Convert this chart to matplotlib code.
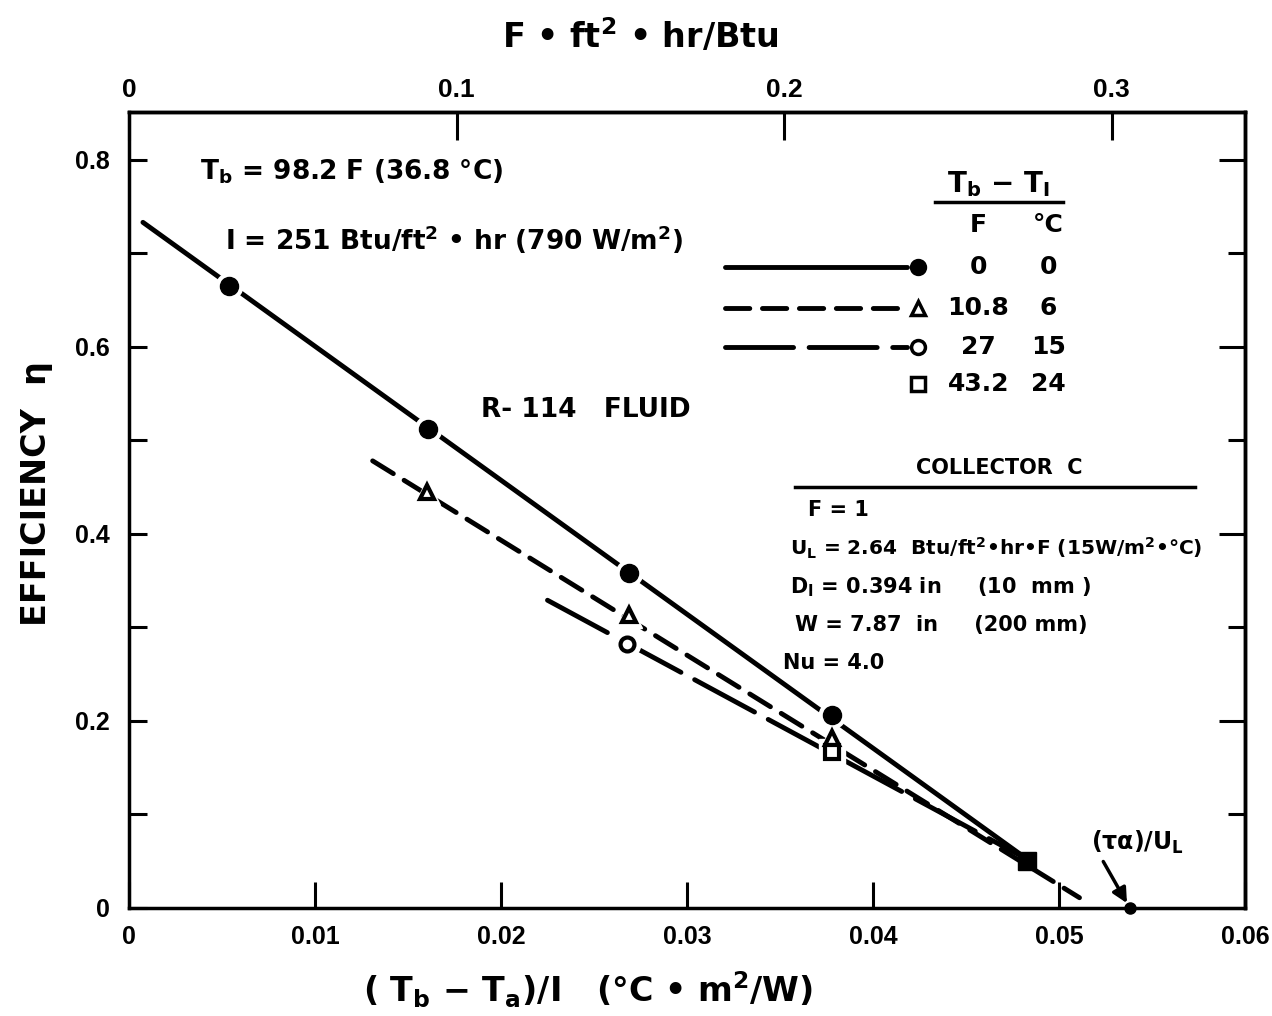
import numpy as np
import matplotlib.pyplot as plt

plt.rcParams['font.family'] = ['Liberation Sans', 'DejaVu Sans']
plt.rcParams['font.weight'] = 'bold'
plt.rcParams['axes.labelweight'] = 'bold'
plt.rcParams['mathtext.fontset'] = 'custom'
plt.rcParams['mathtext.rm'] = 'DejaVu Sans:bold'
plt.rcParams['mathtext.it'] = 'DejaVu Sans:bold'
plt.rcParams['mathtext.bf'] = 'DejaVu Sans:bold'
plt.rcParams['mathtext.default'] = 'rm'

TXT = ['DejaVu Sans']

# (Tb - Ta)/I in C m2/W, efficiency
# Tb - Ti = 0 F (solid, filled circles)
x0_line = [0.00075, 0.0483]
eta0_line = [0.733, 0.052]
x0_pts = [0.0054, 0.0161, 0.0269, 0.0378]
eta0_pts = [0.665, 0.512, 0.358, 0.206]

# Tb - Ti = 10.8 F (dashed, triangles)
x6_line = [0.0131, 0.0511]
eta6_line = [0.478, 0.011]
x6_pts = [0.0160, 0.0269, 0.0378]
eta6_pts = [0.445, 0.313, 0.182]

# Tb - Ti = 27 F (long dash, open circles)
x15_line = [0.0225, 0.0483]
eta15_line = [0.329, 0.052]
x15_pts = [0.0268]
eta15_pts = [0.282]

# Tb - Ti = 43.2 F (open squares)
x24_pts = [0.0378]
eta24_pts = [0.167]

# overlapping points at the low end
x_overlap = [0.0483]
eta_overlap = [0.050]

# (tau alpha)/UL intercept
x_tau = [0.0538]
eta_tau = [0.0]

legend_F = ['0', '10.8', '27', '43.2']
legend_C = ['0', '6', '15', '24']

x_ticks = [0, 0.01, 0.02, 0.03, 0.04, 0.05, 0.06]
x_labels = ['0', '0.01', '0.02', '0.03', '0.04', '0.05', '0.06']
y_ticks = [0, 0.2, 0.4, 0.6, 0.8]
y_labels = ['0', '0.2', '0.4', '0.6', '0.8']
y_minor = [0.1, 0.3, 0.5, 0.7]
top_ticks = [0, 0.1, 0.2, 0.3]
top_labels = ['0', '0.1', '0.2', '0.3']

SI_TO_ENG = 5.678

lw = 3.5
dash6 = (0, (5.0, 2.6))
dash15 = (0, (14, 3.2))

fig = plt.figure(figsize=(12.72, 10.16), dpi=100)
ax = fig.add_axes([0.1014, 0.1063, 0.8774, 0.7835])

# lines
ax.plot(x0_line, eta0_line, '-', color='k', lw=lw, solid_capstyle='round', zorder=2)
ax.plot(x6_line, eta6_line, color='k', lw=lw, linestyle=dash6, dash_capstyle='round', zorder=2)
ax.plot(x15_line, eta15_line, color='k', lw=lw, linestyle=dash15, dash_capstyle='round', zorder=2)

# white halos so lines break around markers
for xs, ys, m in [(x0_pts, eta0_pts, 'o'), (x6_pts, eta6_pts, '^'),
                  (x15_pts, eta15_pts, 'o'), (x24_pts, eta24_pts, 's')]:
    ax.plot(xs, ys, m, ms=19, color='white', mec='white', zorder=3)

ax.plot(x0_pts, eta0_pts, 'o', ms=13, color='k', zorder=4)
ax.plot(x6_pts, eta6_pts, '^', ms=10, mfc='white', mec='k', mew=3, zorder=4)
ax.plot(x15_pts, eta15_pts, 'o', ms=10, mfc='white', mec='k', mew=3, zorder=4)
ax.plot(x24_pts, eta24_pts, 's', ms=10, mfc='white', mec='k', mew=3, zorder=4)
ax.plot(x_overlap, eta_overlap, 's', ms=13, color='k', zorder=4)
ax.plot(x_tau, eta_tau, 'o', ms=8, color='k', zorder=5, clip_on=False)

ax.annotate('(τα)/U$_L$', xy=(x_tau[0], eta_tau[0]), xycoords='data',
            xytext=(0.862, 0.082), textcoords='axes fraction',
            ha='left', va='center', fontsize=17, family=TXT,
            arrowprops=dict(arrowstyle='-|>', color='k', lw=2.5,
                            mutation_scale=22, relpos=(0.1, 0.0),
                            shrinkA=2, shrinkB=4))

# axes
ax.set_xlim(0, 0.06)
ax.set_ylim(0, 0.851)
ax.set_xticks(x_ticks)
ax.set_xticklabels(x_labels)
ax.set_yticks(y_ticks)
ax.set_yticklabels(y_labels)
ax.set_yticks(y_minor, minor=True)
for s in ax.spines.values():
    s.set_linewidth(2.5)
ax.tick_params(axis='x', which='both', direction='in', length=19, width=2.2,
               pad=12, labelsize=18, top=False)
ax.tick_params(axis='y', which='both', direction='in', length=13, width=2.2,
               pad=14, labelsize=18, right=False)

secy = ax.secondary_yaxis('right')
secy.set_yticks(y_ticks)
secy.set_yticks(y_minor, minor=True)
secy.tick_params(axis='y', which='major', direction='in', length=19, width=2.2, labelright=False)
secy.tick_params(axis='y', which='minor', direction='in', length=12, width=2.2)
secy.spines['right'].set_linewidth(2.5)

secx = ax.secondary_xaxis('top', functions=(lambda x: x * SI_TO_ENG, lambda x: x / SI_TO_ENG))
secx.set_xticks(top_ticks)
secx.set_xticklabels(top_labels)
secx.tick_params(axis='x', direction='in', length=20, width=2.2, pad=7, labelsize=19)
secx.spines['top'].set_linewidth(2.5)

# axis titles
fig.text(640 / 1272, 1 - 36 / 1016, 'F • ft$^2$ • hr/Btu', fontsize=24, family=TXT,
         fontweight='bold', ha='center', va='center')
fig.text(588 / 1272, 1 - 990 / 1016, '( T$_b$ − T$_a$)/I   (°C • m$^2$/W)', fontsize=24,
         family=TXT, fontweight='bold', ha='center', va='center')
ax.set_ylabel('EFFICIENCY  η', fontsize=24, family=TXT)
ax.yaxis.set_label_coords(-0.068, 0.52)

# annotations
ax.text(0.064, 0.925, 'T$_b$ = 98.2 F (36.8 °C)', transform=ax.transAxes,
        fontsize=19, ha='left', va='center', family=TXT)
ax.text(0.086, 0.839, 'I = 251 Btu/ft$^2$ • hr (790 W/m$^2$)', transform=ax.transAxes,
        fontsize=19, ha='left', va='center', family=TXT)
ax.text(0.315, 0.626, 'R- 114   FLUID', transform=ax.transAxes,
        fontsize=19, ha='left', va='center', family=TXT)

# legend table
ax.text(0.779, 0.91, 'T$_b$ − T$_I$', transform=ax.transAxes, fontsize=20,
        ha='center', va='center', family=TXT)
ax.plot([0.722, 0.837], [0.887, 0.887], color='k', lw=2.5, transform=ax.transAxes)
ax.text(0.761, 0.858, 'F', transform=ax.transAxes, fontsize=18, ha='center', va='center', family=TXT)
ax.text(0.824, 0.858, '°C', transform=ax.transAxes, fontsize=18, ha='center', va='center', family=TXT)

row_y = [0.805, 0.754, 0.705, 0.658]
styles = [('-', 'o', 'k'), (dash6, '^', 'white'), (dash15, 'o', 'white'), (None, 's', 'white')]
for yy, (ls, m, fc), fval, cval in zip(row_y, styles, legend_F, legend_C):
    if ls is not None:
        ax.plot([0.534, 0.697], [yy, yy], color='k', lw=lw, linestyle=ls,
                dash_capstyle='round', solid_capstyle='round', transform=ax.transAxes)
    ax.plot([0.707], [yy], m, ms=10, mfc=fc, mec='k', mew=2.5, transform=ax.transAxes)
    ax.text(0.761, yy, fval, transform=ax.transAxes, fontsize=18, ha='center', va='center', family=TXT)
    ax.text(0.824, yy, cval, transform=ax.transAxes, fontsize=18, ha='center', va='center', family=TXT)

# collector block
ax.text(0.780, 0.553, 'COLLECTOR  C', transform=ax.transAxes, fontsize=15,
        ha='center', va='center', family=TXT)
ax.plot([0.597, 0.955], [0.529, 0.529], color='k', lw=2.5, transform=ax.transAxes)
ax.text(0.608, 0.500, 'F = 1', transform=ax.transAxes, fontsize=15, ha='left', va='center', family=TXT)
ax.text(0.592, 0.452, 'U$_L$ = 2.64  Btu/ft$^2$•hr•F (15W/m$^2$•°C)', transform=ax.transAxes,
        fontsize=14.5, ha='left', va='center', family=TXT)
ax.text(0.592, 0.403, 'D$_I$ = 0.394 in     (10  mm )', transform=ax.transAxes,
        fontsize=15, ha='left', va='center', family=TXT)
ax.text(0.597, 0.356, 'W = 7.87  in     (200 mm)', transform=ax.transAxes,
        fontsize=15, ha='left', va='center', family=TXT)
ax.text(0.586, 0.308, 'Nu = 4.0', transform=ax.transAxes, fontsize=15, ha='left', va='center', family=TXT)

fig.savefig('out.png', dpi=100)
